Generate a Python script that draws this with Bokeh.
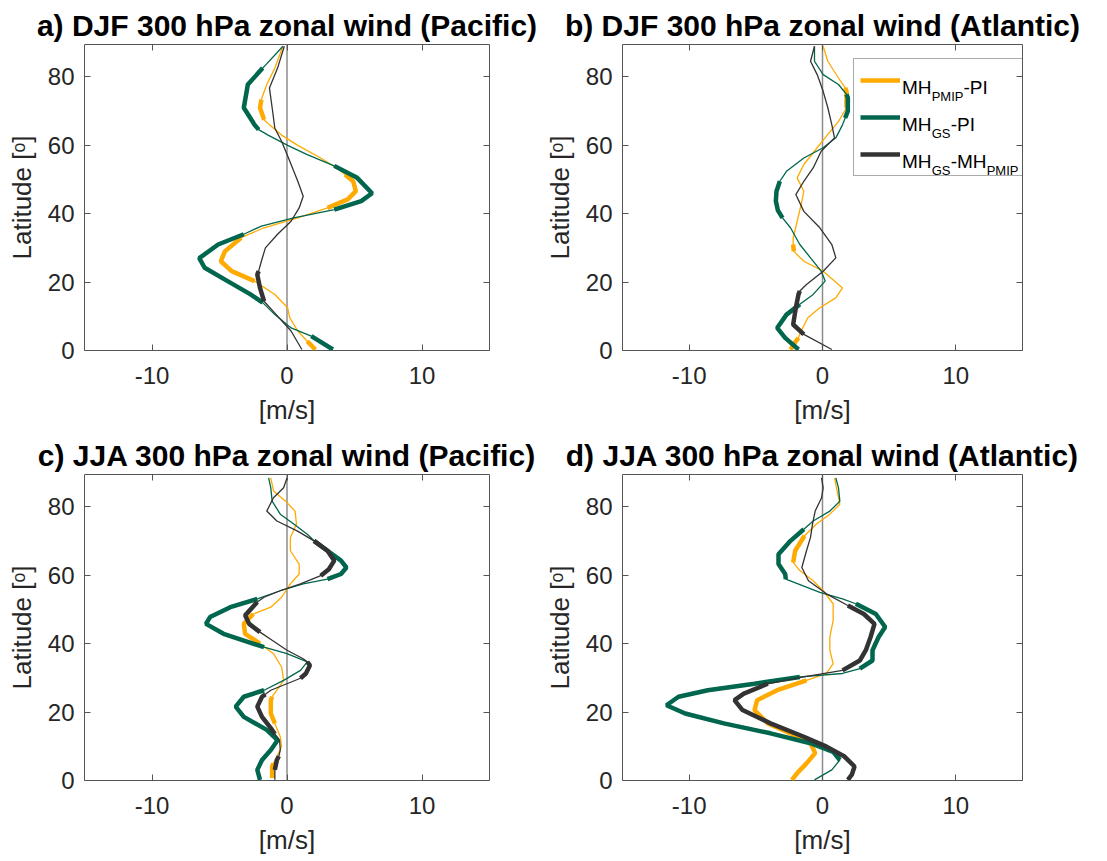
import numpy as np
from bokeh.plotting import figure
from bokeh.layouts import column, row
from bokeh.models import Range1d, FixedTicker, LinearAxis, Span, Legend, LegendItem, Label
from bokeh.core.properties import value
from bokeh.embed import file_html
from bokeh.resources import INLINE

FONT = "Liberation Sans"
ORANGE = "#FFAA00"
GREEN = "#00664D"
DARK = "#333333"
FRAME = "#555555"
TXT = "#262626"

x_ticks = [-10, 0, 10]
x_tick_labels = {-10: "-10", 0: "0", 10: "10"}
y_ticks = [0, 20, 40, 60, 80]
titles = ["a) DJF 300 hPa zonal wind (Pacific)", "b) DJF 300 hPa zonal wind (Atlantic)",
          "c) JJA 300 hPa zonal wind (Pacific)", "d) JJA 300 hPa zonal wind (Atlantic)"]

# ---------------- panel a ----------------
a_pmip_lat = [89, 82.6, 77.8, 73.4, 71, 67.5, 66, 63, 60, 56.3, 53, 51.5, 49.5, 46.6, 44.2, 41.7, 38.8, 35.9, 33, 29,
              26.1, 23.2, 20.3, 16.4, 12.5, 9.6, 5.7, 2.7, 0.3]
a_pmip_u = [-0.3, -0.9, -1.5, -1.9, -2.0, -1.7, -1.3, -0.4, 0.8, 2.5, 3.8, 4.3, 4.9, 5.1, 4.5, 3.0, 0.8, -1.7, -3.4, -4.6,
            -4.9, -4.1, -2.4, -0.9, 0.05, 0.2, 0.8, 1.5, 2.1]
a_pmip_sig = [0, 0, 0, 1, 1, 1, 0, 0, 0, 0, 0, 1, 1, 1, 1, 1, 0, 0, 1, 1, 1, 1, 1, 0, 0, 0, 0, 1, 1]

a_gs_lat = [89, 82.6, 77.8, 71, 66, 64.6, 63, 60, 57.3, 54, 50.5, 46, 43.7, 41.2, 38.8, 36.4, 34, 31, 27, 24.2,
            20.3, 16.4, 14, 10.5, 6.6, 4.2, 0.3]
a_gs_u = [-0.3, -1.8, -2.9, -3.2, -2.4, -2.1, -1.4, 0.05, 1.5, 3.5, 5.2, 6.3, 5.5, 3.5, 0.5, -1.9, -3.2, -5.1, -6.5, -6.1,
          -4.4, -2.7, -1.8, -0.9, 0.3, 1.8, 3.4]
a_gs_sig = [0, 1, 1, 1, 1, 1, 0, 0, 0, 1, 1, 1, 1, 1, 0, 0, 1, 1, 1, 1, 1, 1, 1, 0, 0, 1, 1]

a_diff_lat = [89, 82.6, 76.8, 71, 65, 61.2, 55.4, 49.5, 45.1, 41.7, 37.8, 34, 30, 26.1, 23.2, 22.2, 18.3, 14.4, 10.5, 5.7, 0.3]
a_diff_u = [-0.2, -0.7, -1.3, -1.1, -0.9, -0.4, 0.2, 0.8, 1.2, 0.9, 0.3, -0.7, -1.6, -1.9, -2.1, -2.2, -2.0, -1.7, -0.8, 0.3, 1.1]
a_diff_sig = [0, 0, 0, 0, 0, 0, 0, 0, 0, 0, 0, 0, 0, 0, 1, 1, 1, 1, 0, 0, 0]

# ---------------- panel b ----------------
b_pmip_lat = [89, 84.6, 79.7, 76.8, 75.8, 71, 67, 63.2, 59.3, 54.4, 50.5, 46.6, 42.7, 37.8, 32.9, 31, 29, 26.1, 23.2, 18.3,
              15.4, 12.5, 9.6, 5.7, 3.7, 2.7, 0.3]
b_pmip_u = [0.05, 0.4, 1.2, 1.7, 1.8, 1.8, 1.2, 0.4, -0.4, -1.4, -1.9, -1.4, -1.6, -1.9, -2.2, -2.2, -2.15, -1.4, 0.05, 1.5,
            1.0, -0.2, -1.1, -1.6, -1.8, -2.0, -2.4]
b_pmip_sig = [0, 0, 0, 1, 1, 1, 0, 0, 0, 0, 0, 0, 0, 0, 0, 1, 1, 0, 0, 0, 0, 0, 0, 0, 1, 1, 1]

b_gs_lat = [89, 84.6, 80.7, 77.8, 74.9, 73.9, 70, 68, 66, 62.2, 59.3, 56.3, 52.4, 49.5, 46.6, 43.7, 41, 38.8, 35.9, 31,
            27.1, 23.2, 20.3, 16.4, 13.5, 10.5, 6.6, 3.7, 0.3]
b_gs_u = [-0.6, -0.6, 0.05, 1.2, 1.8, 1.9, 1.9, 1.7, 1.5, 1.0, 0.05, -1.4, -2.7, -3.2, -3.45, -3.5, -3.35, -3.0, -2.4, -1.7,
          -0.9, -0.1, 0.2, -0.7, -1.7, -2.7, -3.4, -2.8, -1.8]
b_gs_sig = [0, 0, 0, 0, 1, 1, 1, 1, 0, 0, 0, 0, 0, 1, 1, 1, 1, 1, 0, 0, 0, 0, 0, 0, 1, 1, 1, 1, 1]

b_diff_lat = [89, 84.6, 80.7, 75.8, 71, 66, 62.2, 58.3, 53.4, 49.5, 45.6, 40.7, 35.9, 31, 27.1, 23.2, 19.3, 17.4, 16.4, 12.5,
              7.6, 4.7, 0.3]
b_diff_u = [-0.6, -0.9, -0.4, 0.05, 0.4, 0.7, 0.9, -0.1, -0.7, -1.4, -2.0, -1.4, -0.2, 0.7, 1.0, 0.05, -1.2, -1.7, -1.8, -2.0,
            -2.2, -1.4, 0.7]
b_diff_sig = [0, 0, 0, 0, 0, 0, 0, 0, 0, 0, 0, 0, 0, 0, 0, 0, 0, 1, 1, 1, 1, 1, 0]

# ---------------- panel c ----------------
c_pmip_lat = [88.5, 84.7, 81.7, 78.8, 75, 71.1, 67.2, 63.3, 60.4, 57.5, 53.6, 50.7, 48.7, 45.8, 42.9, 40, 37.1, 33.2, 29.3, 26.4,
              24.5, 23.5, 19.6, 16.7, 12.8, 9.9, 7, 5, 4.1, 0.7]
c_pmip_u = [-1.2, -1.0, -0.1, 0.6, 0.7, 0.25, 0.25, 0.9, 0.9, 0.25, -0.4, -1.2, -2.5, -3.2, -3.1, -2.0, -1.0, -0.4, -0.25, -0.75,
            -1.1, -1.2, -1.2, -0.9, -0.5, -0.4, -0.75, -1.0, -1.1, -1.1]
c_pmip_sig = [0, 0, 0, 0, 0, 0, 0, 0, 0, 0, 0, 0, 1, 1, 1, 1, 0, 0, 0, 0, 1, 1, 1, 1, 0, 0, 0, 1, 1, 1]

c_gs_lat = [88.5, 85.6, 81.7, 77.9, 75, 72, 70.1, 67.2, 64.3, 62.3, 60.4, 58.9, 57.5, 55.5, 53.1, 50.7, 47.8, 45.8, 42.9, 39,
            37.1, 34.7, 32.2, 29.3, 26.4, 24.5, 21.6, 18.6, 14.8, 11.8, 8.9, 6, 3.1, 0.2]
c_gs_u = [-1.36, -1.2, -1.1, -0.5, 0.5, 1.5, 2.0, 3.0, 4.0, 4.4, 4.0, 3.0, 1.2, -0.5, -2.2, -4.2, -5.7, -6.0, -4.7, -1.7,
          0.0, 1.5, 1.0, -0.25, -1.7, -3.2, -3.8, -3.2, -1.5, -0.7, -1.2, -1.85, -2.2, -2.0]
c_gs_sig = [0, 0, 0, 0, 0, 0, 1, 1, 1, 1, 1, 1, 0, 0, 1, 1, 1, 1, 1, 1, 0, 0, 0, 0, 1, 1, 1, 1, 1, 1, 1, 1, 1, 1]

c_diff_lat = [88.5, 85.6, 82.7, 78.8, 75.9, 73, 70.1, 67.2, 64.3, 61.8, 59.9, 57.5, 55.5, 53.6, 52.2, 48.3, 45.8, 43.4, 41, 38.1,
              35.6, 34.7, 33.7, 31.3, 29.9, 26.4, 25.2, 24.5, 21.6, 18.6, 14.8, 13.6, 11.8, 8.9, 7.1, 6, 3.1, 0.2]
c_diff_u = [0, -0.25, -1.0, -1.5, -0.75, 0.75, 2.0, 3.0, 3.5, 3.1, 2.5, 1.0, -0.5, -1.7, -2.2, -3.1, -2.8, -2.0, -1.1, 0,
            1.2, 1.5, 1.7, 1.4, 1.0, -1.2, -1.6, -1.85, -2.2, -1.85, -1.1, -0.9, -0.55, -0.5, -0.6, -0.75, -0.9, -0.9]
c_diff_sig = [0, 0, 0, 0, 0, 0, 1, 1, 1, 1, 1, 0, 0, 0, 1, 1, 1, 1, 0, 0, 0, 1, 1, 1, 1, 0, 1, 1, 1, 1, 1, 1, 0, 0, 1, 1, 1, 0]

# ---------------- panel d ----------------
d_pmip_lat = [88.5, 84.7, 80.8, 77.9, 75, 71.6, 67.2, 63.8, 61.4, 58.4, 55.5, 51.7, 46.8, 41.9, 38.1, 34.2, 31.3, 29.3, 26.4, 23.5,
              20.6, 16.7, 13.8, 10.9, 8, 5, 2.6, 0.2]
d_pmip_u = [0.9, 1.1, 1.3, 0.55, -0.45, -1.35, -2.05, -2.2, -1.7, -0.7, 0.05, 0.8, 0.8, 0.55, 0.55, 0.8, 0.3, -1.2, -3.4, -4.9,
            -5.1, -4.1, -2.4, -0.9, -0.55, -1.2, -1.8, -2.3]
d_pmip_sig = [0, 0, 0, 0, 0, 1, 1, 1, 0, 0, 0, 0, 0, 0, 0, 0, 0, 1, 1, 1, 1, 1, 1, 1, 1, 1, 1, 1]

d_gs_lat = [88.5, 85.6, 81.7, 78.8, 75.9, 73.5, 70.1, 66.2, 63.3, 60.4, 58.9, 55, 53.1, 51.7, 48.7, 44.9, 41.9, 38.1, 35.1, 32.7,
            31.3, 30.3, 28.3, 26.4, 24.5, 22, 19.6, 16.7, 13.8, 10.9, 8.4, 6, 3.1, 0.2]
d_gs_u = [1.0, 1.2, 1.3, 0.55, -0.7, -1.4, -2.4, -3.3, -3.3, -2.8, -2.75, -0.2, 1.5, 2.5, 4.0, 4.7, 4.2, 3.75, 3.75, 2.8,
          1.5, -1.7, -5.1, -8.6, -10.8, -11.7, -10.3, -7.4, -3.9, -0.9, 0.8, 1.3, 0.7, -0.6]
d_gs_sig = [0, 0, 0, 0, 0, 1, 1, 1, 1, 1, 1, 0, 0, 1, 1, 1, 1, 1, 1, 1, 0, 1, 1, 1, 1, 1, 1, 1, 1, 1, 1, 1, 0, 0]

d_diff_lat = [88.5, 85.6, 82.7, 78.8, 75, 71.1, 67.2, 62.3, 58.4, 54.6, 51.2, 48.7, 45.8, 41.9, 38.1, 35.1, 32.2, 30.3, 28.3, 25.4,
              23.5, 20.6, 16.7, 12.8, 9.9, 7, 4.1, 1.7, 0.2]
d_diff_u = [-0.07, 0.05, -0.07, -0.55, -0.75, -0.9, -1.2, -1.55, -1.05, 0.3, 1.9, 3.1, 3.9, 3.6, 3.25, 2.8, 1.5, -1.4, -4.1, -5.9,
            -6.6, -6.0, -3.9, -1.4, 0.3, 1.65, 2.4, 2.2, 1.9]
d_diff_sig = [0, 0, 0, 0, 0, 0, 0, 0, 0, 0, 1, 1, 1, 1, 1, 1, 1, 0, 1, 1, 1, 1, 1, 1, 1, 1, 1, 1, 1]

panels = [
    [(a_pmip_lat, a_pmip_u, a_pmip_sig, ORANGE), (a_gs_lat, a_gs_u, a_gs_sig, GREEN), (a_diff_lat, a_diff_u, a_diff_sig, DARK)],
    [(b_pmip_lat, b_pmip_u, b_pmip_sig, ORANGE), (b_gs_lat, b_gs_u, b_gs_sig, GREEN), (b_diff_lat, b_diff_u, b_diff_sig, DARK)],
    [(c_pmip_lat, c_pmip_u, c_pmip_sig, ORANGE), (c_gs_lat, c_gs_u, c_gs_sig, GREEN), (c_diff_lat, c_diff_u, c_diff_sig, DARK)],
    [(d_pmip_lat, d_pmip_u, d_pmip_sig, ORANGE), (d_gs_lat, d_gs_u, d_gs_sig, GREEN), (d_diff_lat, d_diff_u, d_diff_sig, DARK)],
]

# legend texts: (text, x offset px from frame left, baseline px from frame top, font size)
MAIN_FS, SUB_FS = "19px", "13px"
leg_texts = [
    ("MH", 283, 43.1, MAIN_FS), ("PMIP", 313, 52.1, SUB_FS), ("-PI", 345.3, 43.1, MAIN_FS),
    ("MH", 283, 80.1, MAIN_FS), ("GS", 313, 89.1, SUB_FS), ("-PI", 332.3, 80.1, MAIN_FS),
    ("MH", 283, 117.1, MAIN_FS), ("GS", 313, 126.1, SUB_FS), ("-MH", 332.3, 117.1, MAIN_FS), ("PMIP", 368.7, 126.1, SUB_FS),
]


def style_axis(ax, ticks, label=None, show_labels=True, overrides=None, tick_standoff=10, label_standoff=3):
    ax.ticker = FixedTicker(ticks=ticks)
    ax.minor_tick_line_color = None
    ax.major_tick_in = 6
    ax.major_tick_out = 0
    ax.major_tick_line_color = FRAME
    ax.axis_line_color = None
    if show_labels:
        ax.major_label_text_font = FONT
        ax.major_label_text_font_size = "24px"
        ax.major_label_text_color = TXT
        ax.major_label_standoff = tick_standoff
        if overrides:
            ax.major_label_overrides = overrides
        if label:
            ax.axis_label = label
            ax.axis_label_text_font = FONT
            ax.axis_label_text_font_size = "26px"
            ax.axis_label_text_font_style = "normal"
            ax.axis_label_text_color = TXT
            ax.axis_label_standoff = label_standoff
    else:
        ax.major_label_text_font_size = "0px"
        ax.major_label_text_color = None
        ax.major_label_standoff = 0


FRAME_W, FRAME_H = 405.0, 306.0
X0, X1, Y0, Y1 = -15, 15, 0, 89.5


def make_panel(idx, width, height, b_left, b_right, b_top, b_bottom):
    p = figure(width=width, height=height, x_range=Range1d(X0, X1), y_range=Range1d(Y0, Y1),
               output_backend="svg", toolbar_location=None,
               min_border_left=b_left, min_border_right=b_right, min_border_top=b_top, min_border_bottom=b_bottom)
    p.title.text = titles[idx]
    p.title.text_font = FONT
    p.title.text_font_size = "30px"
    p.title.text_font_style = "bold"
    p.title.text_color = "black"
    p.title.align = "center"
    p.title.standoff = 5
    p.xgrid.visible = False
    p.ygrid.visible = False
    p.outline_line_color = FRAME
    p.outline_line_width = 1
    p.background_fill_color = "white"
    p.border_fill_color = "white"

    style_axis(p.xaxis[0], x_ticks, "[m/s]", overrides=x_tick_labels, tick_standoff=16, label_standoff=8)
    style_axis(p.yaxis[0], y_ticks, "Latitude [ᵒ]", tick_standoff=10, label_standoff=8)
    top = LinearAxis()
    style_axis(top, x_ticks, show_labels=False)
    p.add_layout(top, "above")
    right = LinearAxis()
    style_axis(right, y_ticks, show_labels=False)
    p.add_layout(right, "right")

    p.add_layout(Span(location=0, dimension="height", line_color="#8c8c8c", line_width=1.5, level="underlay"))

    thick = []
    for lat, u, sig, color in panels[idx]:
        lat_a = np.array(lat, dtype=float)
        u_a = np.array(u, dtype=float)
        s_a = np.array(sig, dtype=bool)
        p.line(u_a, lat_a, line_color=color, line_width=1.3)
        r = p.line(np.where(s_a, u_a, np.nan), lat_a, line_color=color, line_width=4.5)
        thick.append(r)
    return p, thick


pa, _ = make_panel(0, 541, 432, 84, 52, 44, 82)
pb, rb = make_panel(1, 566, 432, 76, 85, 44, 82)
pc, _ = make_panel(2, 541, 429, 84, 52, 42, 81)
pd, _ = make_panel(3, 566, 429, 76, 85, 42, 81)

items = [LegendItem(label=value(" "), renderers=[r]) for r in rb]
legend = Legend(items=items, location=(231, 174.3), orientation="vertical", padding=6, spacing=7, margin=0,
                glyph_width=40, glyph_height=30, label_height=30, label_width=116, label_standoff=6,
                border_line_color=FRAME, border_line_width=1, background_fill_color="white",
                background_fill_alpha=0.0, label_text_font=FONT, label_text_font_size=MAIN_FS)
pb.add_layout(legend)

# legend text with subscripts, positioned inside the frame (pixel offsets converted to data units)
for t, ox, oy, fs in leg_texts:
    xd = X0 + ox / FRAME_W * (X1 - X0)
    yd = Y1 - oy / FRAME_H * (Y1 - Y0)
    pb.add_layout(Label(x=xd, y=yd, text=t, text_font=FONT,
                        text_font_size=fs, text_color="black", text_baseline="alphabetic", text_align="left",
                        level="overlay"))

layout = column(row(pa, pb), row(pc, pd))
open("out.html", "w").write(file_html(layout, INLINE))
